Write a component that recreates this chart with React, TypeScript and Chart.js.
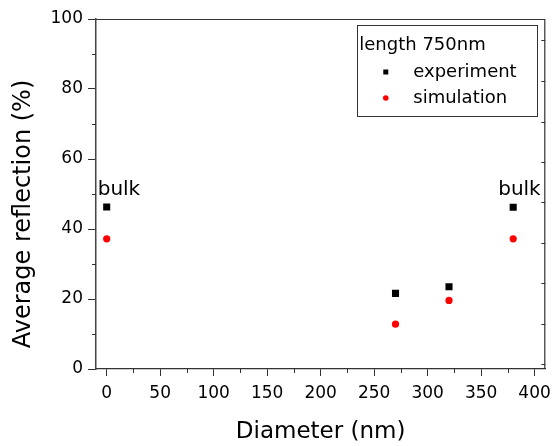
import React, { useEffect, useRef } from "react";
import { Chart, registerables } from "chart.js";

Chart.register(...registerables);

// ---- data ----
const diameters = [0, 270, 320, 380];
const experiment = [46.3, 21.6, 23.5, 46.2];
const simulation = [37.2, 12.8, 19.6, 37.2];
const seriesLabels = ["experiment", "simulation"];
const legendTitle = "length 750nm";
const xTitle = "Diameter (nm)";
const yTitle = "Average reflection (%)";
const xTicks = [0, 50, 100, 150, 200, 250, 300, 350, 400];
const yTicks = [0, 20, 40, 60, 80, 100];
const xMinorTicks = [25, 75, 125, 175, 225, 275, 325, 375];
const yMinorTicks = [10, 30, 50, 70, 90];
const rightTicks = [1.4, 12.9, 24.5, 36.1, 47.6, 59.2, 70.7, 82.3, 93.9];
const noteX = [0, 380];
const noteY = [46.3, 46.2];
const noteText = ["bulk", "bulk"];
const noteDx = [-9, -15];

const FONT = "'DejaVu Sans', sans-serif";

const decorPlugin = {
  id: "decor",
  afterDraw(chart: any) {
    const { ctx, chartArea } = chart;
    const xs = chart.scales.x;
    const ys = chart.scales.y;
    const { left, right, top, bottom } = chartArea;
    ctx.save();
    // frame top & right
    ctx.strokeStyle = "#333";
    ctx.lineWidth = 1.2;
    ctx.beginPath();
    ctx.moveTo(left, top + 0.5);
    ctx.lineTo(right - 0.5, top + 0.5);
    ctx.lineTo(right - 0.5, bottom);
    ctx.stroke();
    // minor ticks
    ctx.lineWidth = 1;
    ctx.beginPath();
    xMinorTicks.forEach((v) => {
      const px = Math.round(xs.getPixelForValue(v)) + 0.5;
      ctx.moveTo(px, bottom);
      ctx.lineTo(px, bottom + 4);
    });
    yMinorTicks.forEach((v) => {
      const py = Math.round(ys.getPixelForValue(v)) + 0.5;
      ctx.moveTo(left, py);
      ctx.lineTo(left - 4, py);
    });
    rightTicks.forEach((v) => {
      const py = Math.round(ys.getPixelForValue(v)) + 0.5;
      ctx.moveTo(right, py);
      ctx.lineTo(right - 4, py);
    });
    ctx.stroke();

    // y title
    ctx.fillStyle = "#000";
    ctx.font = `24px ${FONT}`;
    ctx.textAlign = "center";
    ctx.textBaseline = "middle";
    ctx.save();
    ctx.translate(23.5, (top + bottom) / 2 + 20);
    ctx.rotate(-Math.PI / 2);
    ctx.fillText(yTitle, 0, 0);
    ctx.restore();

    // notes
    ctx.font = `20px ${FONT}`;
    ctx.textAlign = "left";
    ctx.textBaseline = "alphabetic";
    noteText.forEach((t, i) => {
      const px = xs.getPixelForValue(noteX[i]);
      const py = ys.getPixelForValue(noteY[i]);
      ctx.fillText(t, px + noteDx[i], py - 12);
    });

    // legend
    const bw = 180;
    const bh = 91;
    const bx = right - 188;
    const by = top + 6;
    ctx.strokeStyle = "#333";
    ctx.lineWidth = 1;
    ctx.strokeRect(Math.round(bx) + 0.5, Math.round(by) + 0.5, bw, bh);
    ctx.font = `18px ${FONT}`;
    ctx.textBaseline = "middle";
    ctx.fillText(legendTitle, bx + 2, by + 20);
    const rowsY = [by + 47, by + 73];
    // experiment square
    ctx.fillStyle = "#000";
    ctx.fillRect(bx + 26, rowsY[0] - 2.5, 5, 5);
    ctx.fillText(seriesLabels[0], bx + 56, rowsY[0]);
    ctx.fillStyle = "#ff0000";
    ctx.beginPath();
    ctx.arc(bx + 28.5, rowsY[1], 2.8, 0, Math.PI * 2);
    ctx.fill();
    ctx.fillStyle = "#000";
    ctx.fillText(seriesLabels[1], bx + 56, rowsY[1]);
    ctx.restore();
  },
};

export default function App() {
  const ref = useRef<HTMLCanvasElement>(null);
  useEffect(() => {
    const canvas = ref.current!;
    const chart = new Chart(canvas, {
      type: "scatter",
      data: {
        datasets: [
          {
            label: seriesLabels[0],
            data: diameters.map((x, i) => ({ x, y: experiment[i] })),
            pointStyle: "rect",
            pointRadius: 5,
            backgroundColor: "#000",
            borderColor: "#000",
            borderWidth: 0,
            showLine: false,
          },
          {
            label: seriesLabels[1],
            data: diameters.map((x, i) => ({ x, y: simulation[i] })),
            pointStyle: "circle",
            pointRadius: 3.6,
            backgroundColor: "#ff0000",
            borderColor: "#ff0000",
            borderWidth: 0,
            showLine: false,
          },
        ],
      },
      options: {
        animation: false,
        responsive: false,
        devicePixelRatio: 1,
        layout: { padding: { top: 19, right: 8, left: 0, bottom: 0 } },
        plugins: { legend: { display: false }, tooltip: { enabled: false } },
        scales: {
          x: {
            type: "linear",
            min: -10,
            max: 410,
            afterBuildTicks: (s: any) => {
              s.ticks = xTicks.map((v) => ({ value: v }));
            },
            afterFit: (s: any) => {
              s.height = 77;
            },
            grid: {
              drawOnChartArea: false,
              tickLength: 7,
              color: "#333",
              tickColor: "#333",
            },
            border: { display: true, color: "#333", width: 1.2 },
            ticks: {
              font: { family: FONT, size: 17 },
              color: "#000",
              padding: 7,
              maxRotation: 0,
              autoSkip: false,
            },
            title: {
              display: true,
              text: xTitle,
              font: { family: FONT, size: 23 },
              color: "#000",
              padding: { top: 0, bottom: 0 },
            },
          },
          y: {
            type: "linear",
            min: 0,
            max: 100,
            afterBuildTicks: (s: any) => {
              s.ticks = yTicks.map((v) => ({ value: v }));
            },
            afterFit: (s: any) => {
              s.width = 96;
            },
            grid: {
              drawOnChartArea: false,
              tickLength: 8,
              color: "#333",
              tickColor: "#333",
            },
            border: { display: true, color: "#444", width: 1.5 },
            ticks: {
              font: { family: FONT, size: 17 },
              color: "#000",
              padding: 5,
              autoSkip: false,
            },
          },
        },
      },
      plugins: [decorPlugin],
    });
    return () => chart.destroy();
  }, []);
  return (
    <div style={{ position: "absolute", left: 0, top: 0, width: 558, height: 446, background: "#fff" }}>
      <canvas ref={ref} width={558} height={446} />
    </div>
  );
}
